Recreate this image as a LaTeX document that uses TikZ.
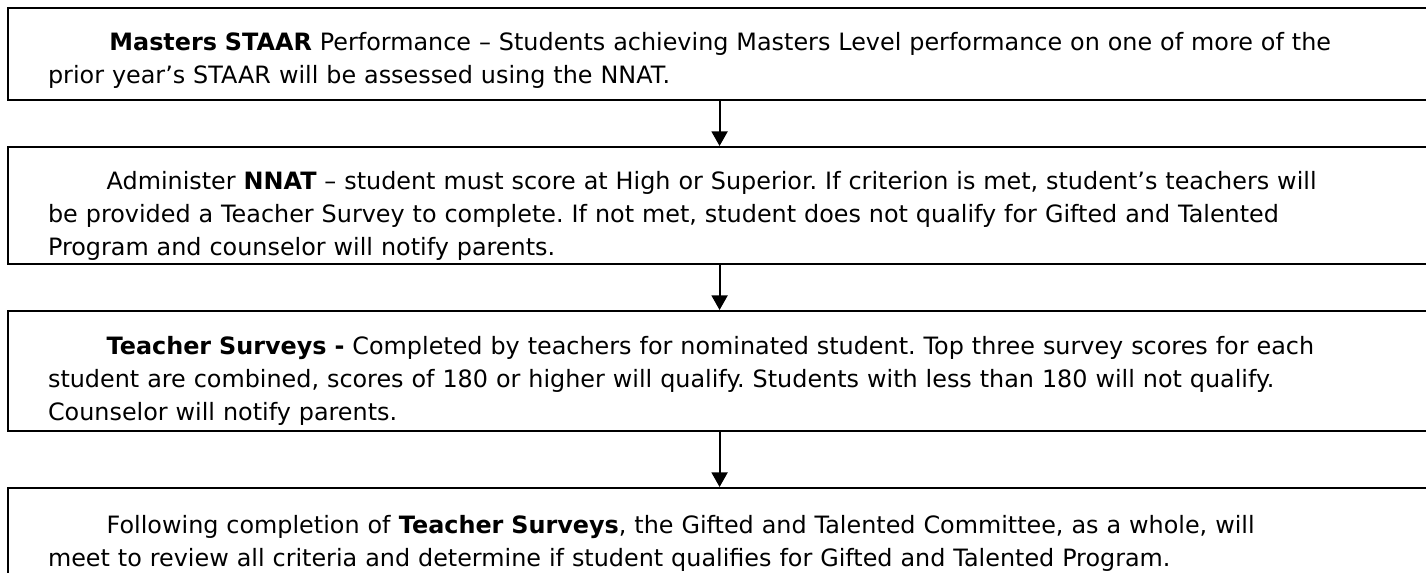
\documentclass[tikz,border=0pt]{standalone}
\usepackage{fontspec}
\setmainfont{DejaVu Sans}
\usetikzlibrary{positioning,arrows.meta}
\frenchspacing

\begin{document}
\begin{tikzpicture}[x=0.75pt,y=-0.75pt,
    flowbox/.style={draw, line width=1.6pt, anchor=north west,
        minimum width=1067.25pt, text width=1007.25pt, inner xsep=30pt, inner ysep=0pt,
        align=left, font=\fontsize{17.9pt}{24.75pt}\selectfont},
    flowarrow/.style={line width=1.6pt, -{Triangle[width=12pt,length=11pt]}}]
    \useasboundingbox (0,0) rectangle (1426,573);

    % Steps
    \node[flowbox] (masters) at (7,7)
        {\rule{0pt}{31.5pt}\hspace*{46pt}\textbf{Masters STAAR} Performance – Students achieving Masters Level performance on one of more of the\\
         prior year’s STAAR will be assessed using the NNAT.\rule[-12.75pt]{0pt}{0pt}};
    \node[flowbox] (nnat) at (7,146)
        {\rule{0pt}{31.5pt}\hspace*{44pt}Administer \textbf{NNAT} – student must score at High or Superior. If criterion is met, student’s teachers will\\
         be provided a Teacher Survey to complete. If not met, student does not qualify for Gifted and Talented\\
         Program and counselor will notify parents.\rule[-6.75pt]{0pt}{0pt}};
    \node[flowbox] (surveys) at (7,310)
        {\rule{0pt}{32.25pt}\hspace*{44pt}\textbf{Teacher Surveys -} Completed by teachers for nominated student. Top three survey scores for each\\
         student are combined, scores of 180 or higher will qualify. Students with less than 180 will not qualify.\\
         Counselor will notify parents.\rule[-8.25pt]{0pt}{0pt}};
    \node[flowbox] (committee) at (7,487)
        {\rule{0pt}{33.75pt}\hspace*{44pt}Following completion of \textbf{Teacher Surveys}, the Gifted and Talented Committee, as a whole, will\\
         meet to review all criteria and determine if student qualifies for Gifted and Talented Program.\rule[-22.5pt]{0pt}{0pt}};

    % Arrows
    \draw[flowarrow] (masters) -- (nnat);
    \draw[flowarrow] (nnat) -- (surveys);
    \draw[flowarrow] (surveys) -- (committee);
\end{tikzpicture}
\end{document}
